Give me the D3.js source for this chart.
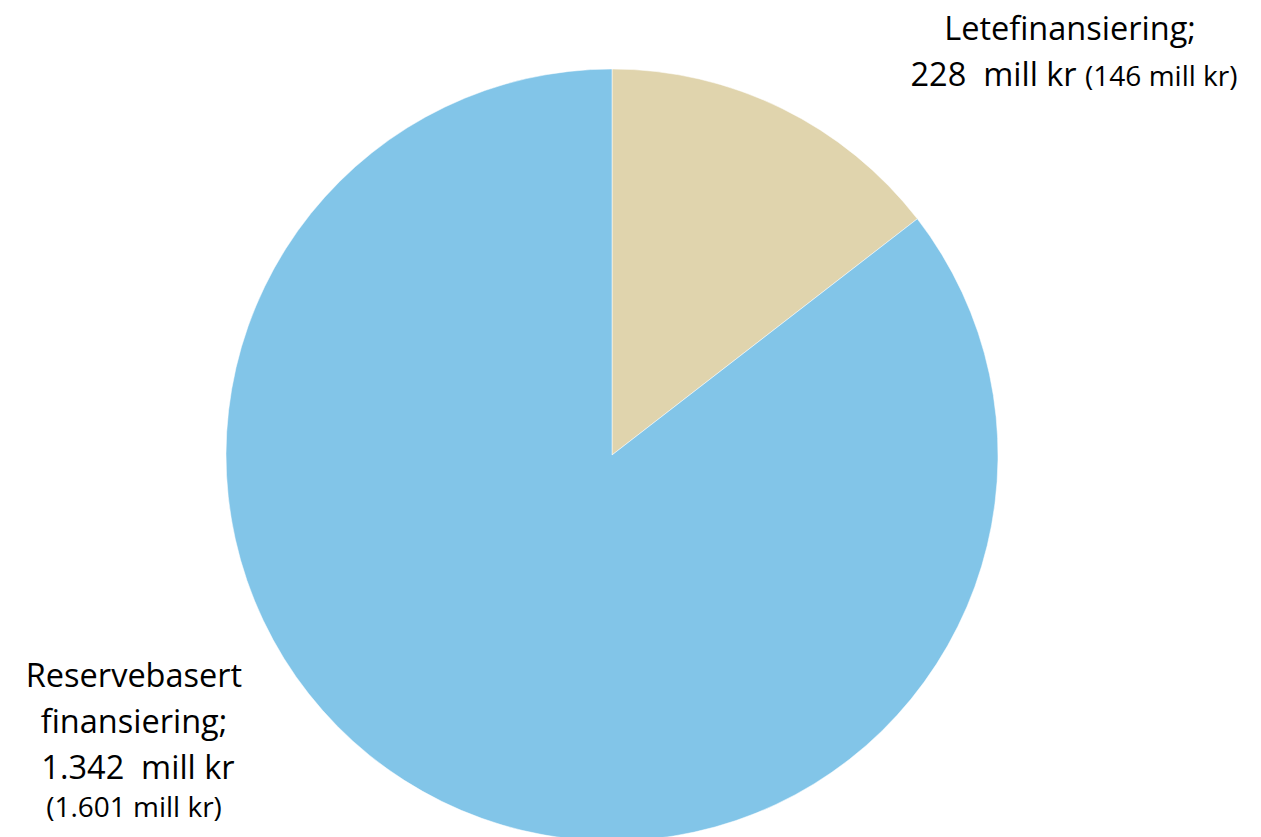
<!DOCTYPE html>
<html>
<head>
<meta charset="utf-8">
<script src="https://cdn.jsdelivr.net/npm/d3@7"></script>
<style>
  body { margin: 0; background: #fff; }
  svg { display: block; }
  text { font-family: "Open Sans", "Noto Sans", sans-serif; fill: #000; }
</style>
</head>
<body>
<div id="chart"></div>
<script>
// Values (mill kr), with previous values in parentheses
const categories = ["Letefinansiering", "Reservebasert finansiering"];
const values = [228, 1342];
const previous = [146, 1601];
const colors = ["#E0D4AD", "#82C5E8"];

const width = 1261, height = 837;
const cx = 612, cy = 455, radius = 386;

const svg = d3.select("#chart")
    .append("svg")
    .attr("width", width)
    .attr("height", height);

const pie = d3.pie()
    .sort(null)
    .value(d => d.value);

const arc = d3.arc()
    .innerRadius(0)
    .outerRadius(radius);

const slices = pie(categories.map((c, i) => ({name: c, value: values[i]})));

svg.append("g")
    .attr("transform", `translate(${cx},${cy})`)
    .selectAll("path")
    .data(slices)
    .enter()
    .append("path")
    .attr("d", arc)
    .attr("fill", (d, i) => colors[i])
    .style("stroke", "#ffffff")
    .style("stroke-width", 1)
    .style("stroke-opacity", 0.5);

const fmt = v => v.toLocaleString("de-DE");
const bigSize = 32.5, smallSize = 28;

// Label: Letefinansiering
const lab1 = svg.append("text")
    .attr("text-anchor", "middle")
    .attr("font-size", bigSize);
lab1.append("tspan").attr("x", 1070).attr("y", 40).text(categories[0] + ";");
const l1b = lab1.append("tspan").attr("x", 1074).attr("y", 86);
l1b.append("tspan").text(fmt(values[0]) + "\u00a0 mill kr ");
l1b.append("tspan").attr("font-size", smallSize).text("(" + fmt(previous[0]) + " mill kr)");

// Label: Reservebasert finansiering
const lab2 = svg.append("text")
    .attr("text-anchor", "middle")
    .attr("font-size", bigSize);
lab2.append("tspan").attr("x", 134).attr("y", 687).text("Reservebasert");
lab2.append("tspan").attr("x", 134).attr("y", 733).text("finansiering;");
lab2.append("tspan").attr("x", 138).attr("y", 779).text(fmt(values[1]) + "\u00a0 mill kr");
lab2.append("tspan").attr("x", 134).attr("y", 817).attr("font-size", smallSize)
    .text("(" + fmt(previous[1]) + " mill kr)");
</script>
</body>
</html>
